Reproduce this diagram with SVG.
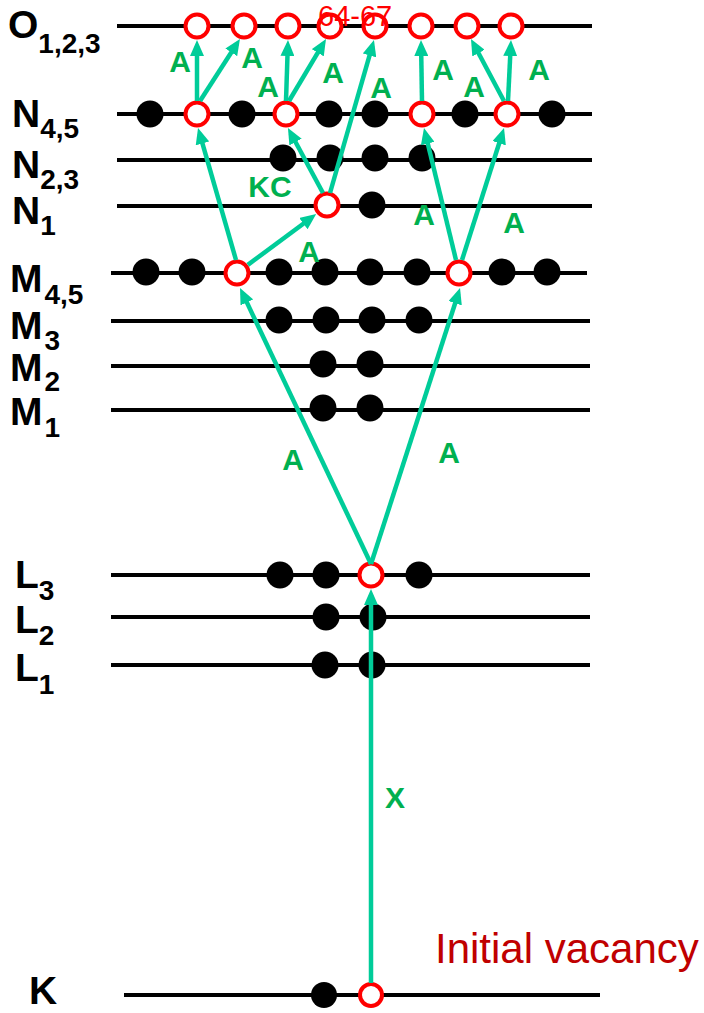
<svg xmlns="http://www.w3.org/2000/svg" width="704" height="1013" viewBox="0 0 704 1013">
<style>
.lv{stroke:#000;stroke-width:4;fill:none}
.e{fill:#000}
.v{fill:#fff;stroke:#ff0000;stroke-width:4}
.c{stroke:#00cc99;stroke-width:4.5;fill:none;marker-end:url(#ah)}
.sh{font-family:"Liberation Sans",Arial,sans-serif;font-weight:bold;font-size:39px;fill:#000}
.sub{font-size:28px}
.t{font-family:"Liberation Sans",Arial,sans-serif;font-weight:bold;font-size:30px;fill:#00b050;text-anchor:middle}
</style>
<defs>
<marker id="ah" markerUnits="userSpaceOnUse" viewBox="0 0 16 14" markerWidth="16" markerHeight="14" refX="10" refY="7" orient="auto">
<path d="M0,0 L16,7 L0,14 z" fill="#00cc99"/>
</marker>
</defs>
<rect width="704" height="1013" fill="#fff"/>

<g id="shell-O">
<line class="lv" x1="117" y1="26" x2="592" y2="26"/>
<text class="sh" x="8" y="38">O<tspan class="sub" y="53">1,2,3</tspan></text>
<circle class="v" cx="197" cy="26" r="11.5"/>
<circle class="v" cx="244" cy="26" r="11.5"/>
<circle class="v" cx="288" cy="26" r="11.5"/>
<circle class="v" cx="330" cy="26" r="11.5"/>
<circle class="v" cx="375" cy="26" r="11.5"/>
<circle class="v" cx="421" cy="26" r="11.5"/>
<circle class="v" cx="467" cy="26" r="11.5"/>
<circle class="v" cx="511" cy="26" r="11.5"/>
<text x="318" y="26" font-family="Liberation Sans, Arial, sans-serif" font-size="29" fill="#ff0000">64-67</text>
</g>

<g id="shell-N45">
<line class="lv" x1="117" y1="114" x2="592" y2="114"/>
<text class="sh" x="12" y="127">N<tspan class="sub" y="138">4,5</tspan></text>
<circle class="e" cx="150" cy="114" r="13.5"/>
<circle class="e" cx="242" cy="114" r="13.5"/>
<circle class="e" cx="329" cy="114" r="13.5"/>
<circle class="e" cx="375" cy="114" r="13.5"/>
<circle class="e" cx="465" cy="114" r="13.5"/>
<circle class="e" cx="552" cy="114" r="13.5"/>
<circle class="v" cx="197" cy="114" r="11.5"/>
<circle class="v" cx="286" cy="114" r="11.5"/>
<circle class="v" cx="422" cy="114" r="11.5"/>
<circle class="v" cx="507" cy="114" r="11.5"/>
</g>

<g id="shell-N23">
<line class="lv" x1="117" y1="160" x2="592" y2="160"/>
<text class="sh" x="12" y="178">N<tspan class="sub" y="189">2,3</tspan></text>
<circle class="e" cx="283" cy="158" r="13.5"/>
<circle class="e" cx="330" cy="158" r="13.5"/>
<circle class="e" cx="375" cy="158" r="13.5"/>
<circle class="e" cx="422" cy="158" r="13.5"/>
</g>

<g id="shell-N1">
<line class="lv" x1="117" y1="206" x2="592" y2="206"/>
<text class="sh" x="12" y="224">N<tspan class="sub" y="235">1</tspan></text>
<circle class="e" cx="372" cy="205" r="13.5"/>
<circle class="v" cx="327" cy="205" r="11.5"/>
</g>

<g id="shell-M45">
<line class="lv" x1="111" y1="273" x2="587" y2="273"/>
<text class="sh" x="10" y="292">M<tspan class="sub" dx="2" y="304">4,5</tspan></text>
<circle class="e" cx="146" cy="272" r="13.5"/>
<circle class="e" cx="192" cy="272" r="13.5"/>
<circle class="e" cx="279" cy="272" r="13.5"/>
<circle class="e" cx="325" cy="272" r="13.5"/>
<circle class="e" cx="370" cy="272" r="13.5"/>
<circle class="e" cx="417" cy="272" r="13.5"/>
<circle class="e" cx="502" cy="272" r="13.5"/>
<circle class="e" cx="547" cy="272" r="13.5"/>
<circle class="v" cx="237" cy="273" r="11.5"/>
<circle class="v" cx="459" cy="273" r="11.5"/>
</g>

<g id="shell-M3">
<line class="lv" x1="111" y1="321" x2="590" y2="321"/>
<text class="sh" x="10" y="339">M<tspan class="sub" dx="2" y="350">3</tspan></text>
<circle class="e" cx="279" cy="320" r="13.5"/>
<circle class="e" cx="326" cy="320" r="13.5"/>
<circle class="e" cx="372" cy="320" r="13.5"/>
<circle class="e" cx="419" cy="320" r="13.5"/>
</g>

<g id="shell-M2">
<line class="lv" x1="111" y1="366" x2="590" y2="366"/>
<text class="sh" x="10" y="381">M<tspan class="sub" dx="2" y="391">2</tspan></text>
<circle class="e" cx="323" cy="364" r="13.5"/>
<circle class="e" cx="370" cy="364" r="13.5"/>
</g>

<g id="shell-M1">
<line class="lv" x1="111" y1="410" x2="590" y2="410"/>
<text class="sh" x="10" y="425">M<tspan class="sub" dx="2" y="437">1</tspan></text>
<circle class="e" cx="323" cy="408" r="13.5"/>
<circle class="e" cx="370" cy="408" r="13.5"/>
</g>

<g id="shell-L3">
<line class="lv" x1="111" y1="575" x2="590" y2="575"/>
<text class="sh" x="15" y="588">L<tspan class="sub" y="600">3</tspan></text>
<circle class="e" cx="280" cy="575" r="13.5"/>
<circle class="e" cx="326" cy="575" r="13.5"/>
<circle class="e" cx="419" cy="575" r="13.5"/>
<circle class="v" cx="371" cy="575" r="11.5"/>
</g>

<g id="shell-L2">
<line class="lv" x1="111" y1="617" x2="590" y2="617"/>
<text class="sh" x="15" y="633">L<tspan class="sub" y="645">2</tspan></text>
<circle class="e" cx="326" cy="617" r="13.5"/>
<circle class="e" cx="373" cy="617" r="13.5"/>
</g>

<g id="shell-L1">
<line class="lv" x1="111" y1="665" x2="590" y2="665"/>
<text class="sh" x="15" y="681">L<tspan class="sub" y="694">1</tspan></text>
<circle class="e" cx="325" cy="665" r="13.5"/>
<circle class="e" cx="372" cy="665" r="13.5"/>
</g>

<g id="shell-K">
<line class="lv" x1="124" y1="995" x2="600" y2="995"/>
<text class="sh" x="29" y="1004">K</text>
<circle class="e" cx="324" cy="995" r="13"/>
<circle class="v" cx="371" cy="995" r="11"/>
<text x="435" y="963" font-family="Liberation Sans, Arial, sans-serif" font-size="42" fill="#c00000">Initial vacancy</text>
</g>

<g id="connectors">
<line class="c" x1="371" y1="983" x2="371" y2="595"/>
<line class="c" x1="371" y1="564" x2="242.6" y2="293.4"/>
<line class="c" x1="371" y1="564" x2="458.2" y2="293.7"/>
<line class="c" x1="236" y1="260" x2="199.7" y2="133.8"/>
<line class="c" x1="247.8" y1="264.9" x2="311.4" y2="217.7"/>
<line class="c" x1="456" y1="260" x2="425.4" y2="133.8"/>
<line class="c" x1="462" y1="260" x2="502.2" y2="133.7"/>
<line class="c" x1="323" y1="193" x2="290.8" y2="133.3"/>
<line class="c" x1="330" y1="193" x2="372.3" y2="45.8"/>
<line class="c" x1="197" y1="101" x2="197" y2="46"/>
<line class="c" x1="200" y1="101" x2="236.7" y2="44"/>
<line class="c" x1="286" y1="101" x2="287.8" y2="46"/>
<line class="c" x1="289" y1="101" x2="322.9" y2="44.2"/>
<line class="c" x1="422" y1="101" x2="421.1" y2="46"/>
<line class="c" x1="504" y1="101" x2="473.8" y2="44.3"/>
<line class="c" x1="508" y1="101" x2="510.7" y2="46"/>
</g>

<g id="labels">
<text class="t" x="180" y="72">A</text>
<text class="t" x="252" y="68">A</text>
<text class="t" x="268" y="97">A</text>
<text class="t" x="333" y="83">A</text>
<text class="t" x="381" y="98">A</text>
<text class="t" x="443" y="80">A</text>
<text class="t" x="474" y="97">A</text>
<text class="t" x="539" y="80">A</text>
<text class="t" x="270" y="197">KC</text>
<text class="t" x="309" y="262">A</text>
<text class="t" x="424" y="225">A</text>
<text class="t" x="514" y="233">A</text>
<text class="t" x="293" y="470">A</text>
<text class="t" x="449" y="463">A</text>
<text class="t" x="395" y="808">X</text>
</g>
</svg>
